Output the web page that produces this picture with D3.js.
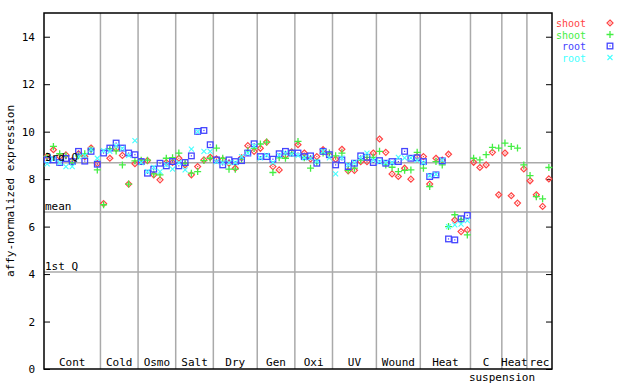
<!DOCTYPE html>
<html>
<head>
<meta charset="utf-8">
<script src="https://cdn.jsdelivr.net/npm/d3@7"></script>
<style>
  body { margin: 0; background: #fff; }
  text { font-family: "DejaVu Sans Mono", monospace; font-size: 11px; }
</style>
</head>
<body>
<svg id="chart" width="640" height="384"></svg>
<script>
// groups of samples (label, number of columns)
const groups = ['Cont', 'Cold', 'Osmo', 'Salt', 'Dry', 'Gen', 'Oxi', 'UV', 'Wound', 'Heat', 'C', 'Heat', 'rec']
const groupSizes = [9, 6, 6, 6, 7, 6, 6, 7, 7, 8, 5, 4, 4]

const yTicks = [0, 2, 4, 6, 8, 10, 12, 14]
const refLines = [8.69, 6.62, 4.09]
const refLabels = ['3rd Q', 'mean', '1st Q']

const shoot1 = [
  8.96, 9.24, 8.95, 9.02, 8.78, 9.07, 8.95, 9.31, 8.65,
  6.97, 8.88, 9.28, 9.0, 7.79, 8.65,
  8.75, 8.78, 8.18, 7.97, 8.7, 8.7,
  8.88, 8.6, 8.18, 8.53, 8.81, 8.92,
  8.85, 8.81, 8.67, 8.46, 8.9, 9.41, 9.17,
  9.3, 9.56, 8.53, 8.39, 9.0, 9.15,
  9.45, 9.1, 8.85, 8.95, 9.24, 9.0,
  8.84, 9.26, 8.35, 8.37, 8.74, 8.74, 9.1,
  9.69, 9.13, 8.22, 8.11, 8.46, 8.0, 8.95,
  8.95, 7.79, 8.88, 8.8, 9.05, 6.28, 5.79, 5.86,
  8.71, 8.49, 8.6, 9.13, 7.34,
  9.1, 7.3, 6.99, 8.43,
  7.93, 7.34, 6.85, 8.01
]
const shoot2 = [
  8.96, 9.38, 9.07, 8.98, 8.69, 8.98, 9.07, 9.24, 8.39,
  6.92, 9.28, 9.19, 8.6, 7.79, 8.77,
  8.8, 8.8, 8.22, 8.18, 8.88, 8.9,
  9.1, 8.67, 8.25, 8.32, 8.78, 8.88,
  9.31, 8.88, 8.42, 8.42, 8.85, 9.2, 9.3,
  9.48, 9.56, 8.28, 8.9, 8.88, 9.1,
  9.59, 8.9, 8.46, 8.7, 9.1, 9.1,
  8.98, 9.1, 8.37, 8.46, 8.8, 8.92, 8.92,
  9.17, 8.6, 8.5, 8.32, 8.37, 8.39, 9.13,
  8.46, 7.69, 8.74, 8.6, 6.0, 6.5, 6.3, 5.65,
  8.88, 8.81, 9.03, 9.34, 9.31,
  9.52, 9.38, 9.31, 8.6,
  8.15, 7.26, 7.17, 8.49
]
const root1 = [
  8.81, 8.81, 8.7, 8.87, 8.74, 9.17, 8.76, 9.17, 8.63,
  9.1, 9.31, 9.52, 9.31, 9.1, 9.03,
  8.74, 8.25, 8.42, 8.67, 8.56, 8.74,
  8.56, 8.7, 8.98, 10.01, 10.05, 9.45,
  8.81, 8.6, 8.81, 8.74, 8.78, 9.1, 9.49,
  8.95, 8.95, 8.84, 9.07, 9.17, 9.1,
  9.1, 8.95, 8.98, 8.67, 9.17, 9.03,
  8.6, 8.81, 8.53, 8.67, 8.98, 8.92, 8.7,
  8.78, 8.67, 8.74, 8.74, 9.17, 8.88, 8.9,
  8.74, 8.11, 8.18, 8.77, 5.48, 5.44, 6.33, 6.47
]
const root2 = [
  8.64, 8.85, 8.7, 8.53, 8.53, 8.95, 9.0, 9.24, 8.88,
  9.2, 9.17, 9.4, 9.3, 9.0, 9.62,
  8.7, 8.32, 8.5, 8.32, 8.6, 8.42,
  8.7, 8.39, 9.26, 10.0, 9.17, 9.17,
  8.74, 8.7, 8.7, 8.7, 8.95, 9.1, 9.4,
  8.9, 9.0, 8.7, 9.0, 9.1, 9.05,
  9.0, 8.9, 8.9, 8.75, 9.17, 8.9,
  8.22, 8.9, 8.6, 8.7, 8.9, 9.1, 8.8,
  8.74, 8.7, 8.7, 8.92, 8.9, 8.9, 8.8,
  8.7, 8.15, 8.2, 8.8, 6.0, 6.07, 6.1, 6.25
]

const series = [
  { name: 'shoot', values: shoot1, color: '#ff4444', shape: 'diamond' },
  { name: 'shoot', values: shoot2, color: '#44ee44', shape: 'plus' },
  { name: 'root', values: root1, color: '#4444ff', shape: 'square' },
  { name: 'root', values: root2, color: '#44ffff', shape: 'cross' }
]

const svg = d3.select('#chart')
const plotL = 44
const plotR = 552
const plotT = 13
const plotB = 369
const nCols = d3.sum(groupSizes)

const xScale = d3.scaleLinear().domain([-0.5, nCols - 0.5]).range([plotL, plotR])
const yScale = d3.scaleLinear().domain([0, 15]).range([plotB, plotT])

// group separators
let cum = 0
const bounds = []
groupSizes.forEach(n => { bounds.push([cum, cum + n]); cum += n })

svg.append('g').selectAll('line')
  .data(bounds.slice(1))
  .enter().append('line')
  .attr('x1', d => xScale(d[0] - 0.5)).attr('x2', d => xScale(d[0] - 0.5))
  .attr('y1', plotT).attr('y2', plotB)
  .attr('stroke', '#aaa').attr('stroke-width', 1.5)

// quartile / mean lines
svg.append('g').selectAll('line')
  .data(refLines)
  .enter().append('line')
  .attr('x1', plotL).attr('x2', plotR)
  .attr('y1', d => yScale(d)).attr('y2', d => yScale(d))
  .attr('stroke', '#aaa').attr('stroke-width', 1.5)

// axes
const yAxis = d3.axisLeft(yScale).tickValues(yTicks).tickSize(-6).tickPadding(9)
const gy = svg.append('g').attr('transform', `translate(${plotL},0)`).call(yAxis)
gy.select('.domain').remove()
gy.selectAll('text').style('font-family', '"DejaVu Sans Mono", monospace').style('font-size', '11px')

const yAxisR = d3.axisRight(yScale).tickValues(yTicks).tickSize(-6).tickFormat('')
const gyr = svg.append('g').attr('transform', `translate(${plotR},0)`).call(yAxisR)
gyr.select('.domain').remove()

svg.append('rect')
  .attr('x', plotL).attr('y', plotT)
  .attr('width', plotR - plotL).attr('height', plotB - plotT)
  .attr('fill', 'none').attr('stroke', '#000').attr('stroke-width', 1.5)

// group labels
svg.append('g').selectAll('text')
  .data(bounds)
  .enter().append('text')
  .attr('x', d => xScale((d[0] + d[1] - 1) / 2))
  .attr('y', 366)
  .attr('text-anchor', 'middle')
  .text((d, i) => groups[i])
svg.append('text').attr('x', 502).attr('y', 381).attr('text-anchor', 'middle').text('suspension')

svg.append('text')
  .attr('transform', 'translate(14,191) rotate(-90)')
  .attr('text-anchor', 'middle')
  .text('affy-normalized expression')

// markers
function drawMarker (sel, shape, color) {
  if (shape === 'diamond') {
    sel.append('path').attr('d', 'M0,-3L3,0L0,3L-3,0Z')
      .attr('fill', 'none').attr('stroke', color).attr('stroke-width', 1.2)
    sel.append('rect').attr('x', -0.6).attr('y', -0.6).attr('width', 1.2).attr('height', 1.2).attr('fill', color)
  } else if (shape === 'plus') {
    sel.append('path').attr('d', 'M-3.5,0H3.5M0,-3.5V3.5')
      .attr('stroke', color).attr('stroke-width', 1.3)
  } else if (shape === 'square') {
    sel.append('rect').attr('x', -2.8).attr('y', -2.8).attr('width', 5.6).attr('height', 5.6)
      .attr('fill', 'none').attr('stroke', color).attr('stroke-width', 1.3)
    sel.append('rect').attr('x', -0.6).attr('y', -0.6).attr('width', 1.2).attr('height', 1.2).attr('fill', color)
  } else {
    sel.append('path').attr('d', 'M-2.5,-2.5L2.5,2.5M-2.5,2.5L2.5,-2.5')
      .attr('stroke', color).attr('stroke-width', 1.1)
  }
}

series.forEach(s => {
  const pts = s.values.map((v, i) => ({ i, v })).filter(d => d.v != null)
  svg.append('g').selectAll('g')
    .data(pts)
    .enter().append('g')
    .attr('transform', d => `translate(${xScale(d.i)},${yScale(d.v)})`)
    .each(function () { drawMarker(d3.select(this), s.shape, s.color) })
})

// reference line labels, on top of the points
svg.append('g').selectAll('text')
  .data(refLines)
  .enter().append('text')
  .attr('x', plotL + 1)
  .attr('y', d => yScale(d) - 2)
  .text((d, i) => refLabels[i])

// legend
const lg = svg.append('g')
series.forEach((s, i) => {
  const y = 27 + i * 11.5
  lg.append('text').attr('x', 586).attr('y', y).attr('text-anchor', 'end')
    .style('font-size', '10px')
    .attr('fill', s.color).text(s.name)
  const m = lg.append('g').attr('transform', `translate(610,${y - 4})`)
  drawMarker(m, s.shape, s.color)
})
</script>
</body>
</html>
